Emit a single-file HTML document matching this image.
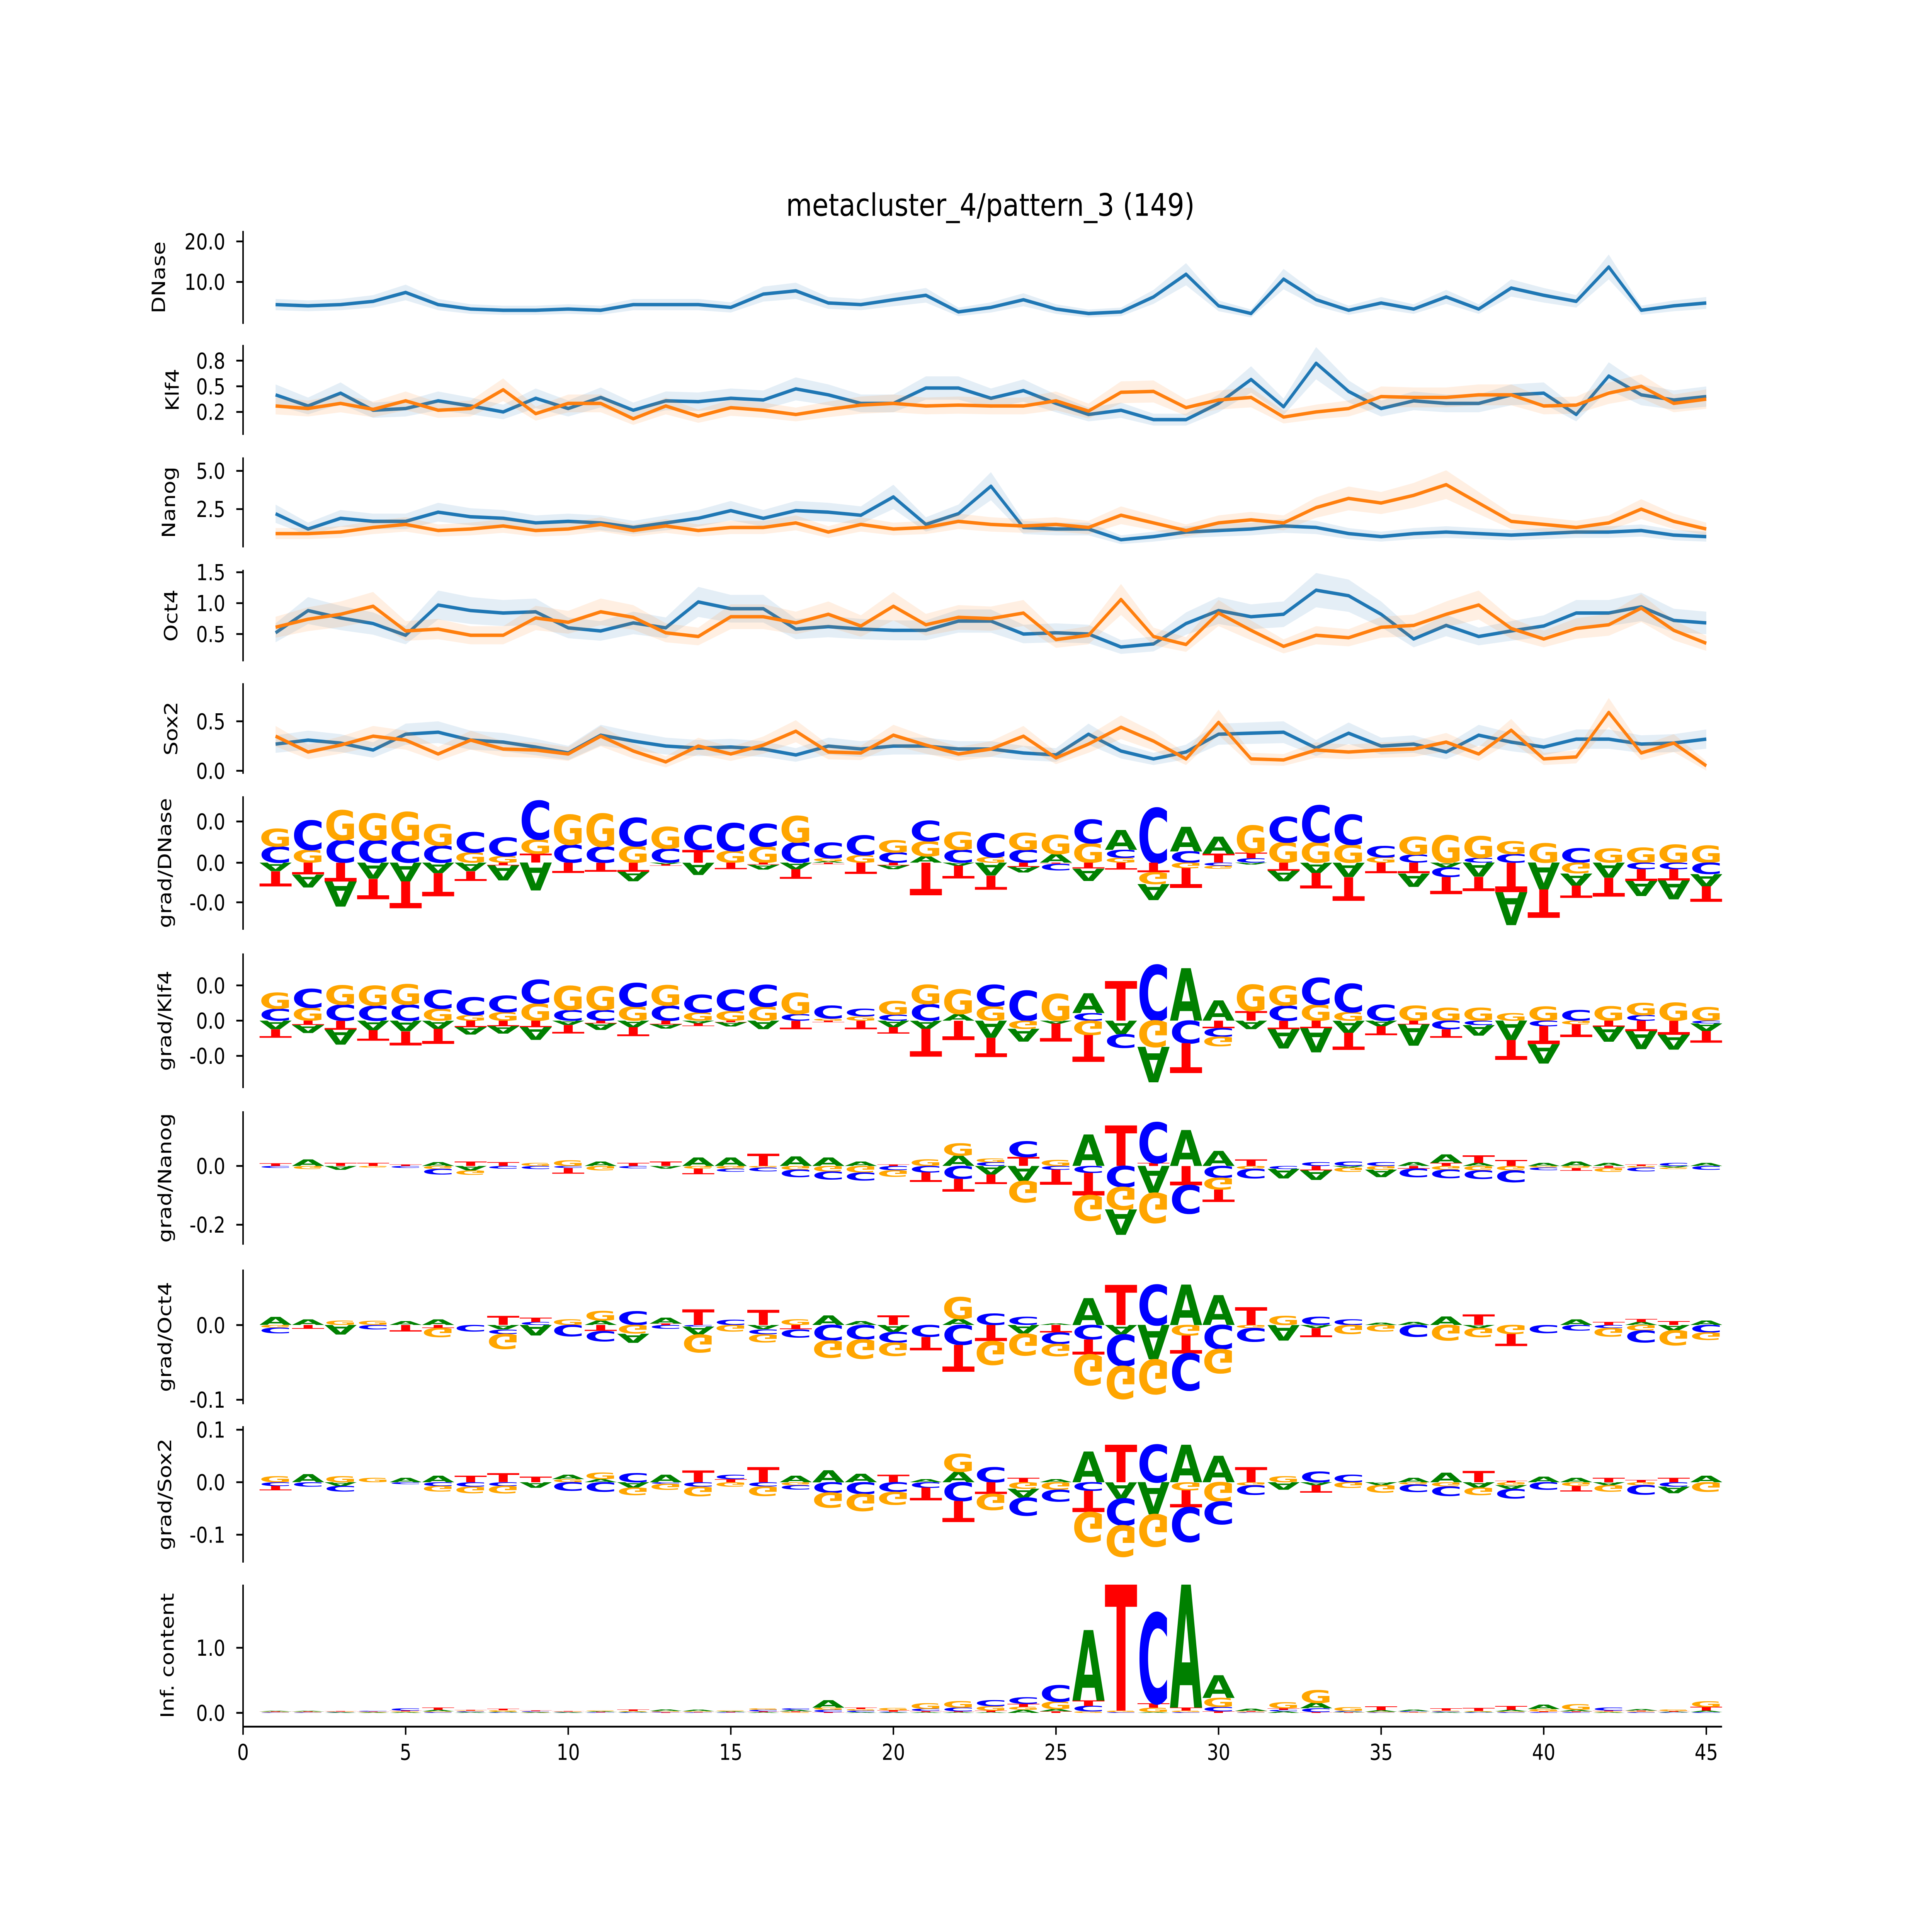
<!DOCTYPE html>
<html><head><meta charset="utf-8"><style>
html,body{margin:0;padding:0;background:#fff;width:100%;height:100%;overflow:hidden;}
svg{display:block;width:100vw;height:100vh;}
text{font-family:"DejaVu Sans","Liberation Sans",sans-serif;}
</style></head><body>
<svg id="chart" xmlns="http://www.w3.org/2000/svg" viewBox="0 0 1546 1288.33" preserveAspectRatio="none">
<rect x="0" y="0" width="1546" height="1288.33" fill="#fff"/>
<text x="792.5" y="143.9" font-size="20.6" text-anchor="middle" textLength="327" lengthAdjust="spacingAndGlyphs">metacluster_4/pattern_3 (149)</text>
<g id="plots"></g>
</svg>
<script>
// ---- line panel data (positions 1..45) ----
const positions = [1,2,3,4,5,6,7,8,9,10,11,12,13,14,15,16,17,18,19,20,21,22,23,24,25,26,27,28,29,30,31,32,33,34,35,36,37,38,39,40,41,42,43,44,45];
const dnaseBlue = [4.4,4.1,4.4,5.2,7.4,4.4,3.3,3.0,3.0,3.3,3.0,4.4,4.4,4.4,3.7,7.0,7.8,4.8,4.4,5.6,6.7,2.6,3.7,5.6,3.3,2.2,2.6,6.3,11.9,4.1,2.2,10.7,5.6,3.0,4.8,3.3,6.3,3.3,8.5,6.7,5.2,13.7,3.0,4.1,4.8];
const klf4Blue = [0.40,0.27,0.42,0.22,0.24,0.33,0.27,0.20,0.36,0.24,0.37,0.22,0.33,0.32,0.36,0.34,0.47,0.40,0.30,0.30,0.48,0.48,0.36,0.45,0.30,0.17,0.22,0.11,0.11,0.30,0.58,0.26,0.77,0.44,0.24,0.33,0.30,0.30,0.40,0.42,0.17,0.62,0.40,0.34,0.38];
const klf4Orange = [0.27,0.24,0.30,0.23,0.33,0.22,0.24,0.46,0.18,0.30,0.30,0.12,0.27,0.15,0.25,0.22,0.17,0.23,0.28,0.30,0.27,0.28,0.27,0.27,0.33,0.21,0.43,0.44,0.25,0.34,0.37,0.14,0.20,0.24,0.38,0.37,0.37,0.40,0.40,0.27,0.28,0.42,0.50,0.30,0.35];
const nanogBlue = [2.2,1.2,1.9,1.7,1.7,2.3,2.0,1.9,1.6,1.7,1.6,1.3,1.6,1.9,2.4,1.9,2.4,2.3,2.1,3.3,1.5,2.2,4.0,1.3,1.2,1.2,0.5,0.7,1.0,1.1,1.2,1.4,1.3,0.9,0.7,0.9,1.0,0.9,0.8,0.9,1.0,1.0,1.1,0.8,0.7];
const nanogOrange = [0.9,0.9,1.0,1.3,1.5,1.1,1.2,1.4,1.1,1.2,1.5,1.1,1.4,1.1,1.3,1.3,1.6,1.0,1.5,1.2,1.3,1.7,1.5,1.4,1.5,1.3,2.1,1.6,1.1,1.6,1.8,1.6,2.6,3.2,2.9,3.4,4.1,2.9,1.7,1.5,1.3,1.6,2.5,1.7,1.2];
const oct4Blue = [0.52,0.88,0.76,0.67,0.48,0.97,0.88,0.84,0.86,0.60,0.55,0.68,0.60,1.02,0.91,0.91,0.58,0.62,0.58,0.56,0.56,0.71,0.71,0.50,0.52,0.50,0.29,0.34,0.67,0.88,0.78,0.82,1.21,1.12,0.82,0.42,0.64,0.46,0.55,0.63,0.84,0.84,0.94,0.72,0.68];
const oct4Orange = [0.61,0.74,0.82,0.95,0.55,0.58,0.48,0.48,0.76,0.69,0.86,0.77,0.52,0.46,0.78,0.78,0.68,0.82,0.63,0.95,0.65,0.77,0.75,0.84,0.41,0.48,1.06,0.46,0.33,0.84,0.56,0.30,0.48,0.44,0.61,0.64,0.82,0.97,0.59,0.42,0.59,0.65,0.92,0.56,0.35];
const sox2Blue = [0.27,0.31,0.28,0.21,0.37,0.39,0.31,0.29,0.24,0.18,0.36,0.30,0.25,0.23,0.24,0.22,0.16,0.25,0.22,0.25,0.25,0.22,0.22,0.18,0.16,0.37,0.20,0.12,0.19,0.37,0.38,0.39,0.23,0.38,0.25,0.27,0.19,0.36,0.29,0.24,0.32,0.32,0.27,0.28,0.32];
const sox2Orange = [0.35,0.19,0.26,0.35,0.31,0.17,0.31,0.22,0.21,0.17,0.35,0.20,0.09,0.25,0.17,0.26,0.40,0.19,0.18,0.36,0.26,0.17,0.22,0.35,0.13,0.27,0.44,0.30,0.12,0.49,0.12,0.11,0.21,0.19,0.21,0.22,0.29,0.17,0.41,0.12,0.14,0.59,0.18,0.28,0.05];

// ---- logo data (contribution per base, display units of each panel) ----
const dA = [-5.7,-8.6,-16.8,-10.7,-12.5,-7,-5.7,-10,-18.6,0,0,-6.4,-1,-8.2,0,-3.2,-4.3,1,0,-2.5,4.3,-2,-8.6,-3.6,5.7,-8.2,13.2,-10.7,16.4,11.4,-1.4,-7,-6.8,-9.6,0,-8.9,-3.2,-9.3,-22,-17.9,-8.2,-10,-10,-12.5,-8.2];
const dC = [10.7,19.6,15,15,14.6,11.4,13.6,12.5,25.7,12,10.7,19,9.3,16.4,18.6,15,13.6,10.4,13.2,6.8,13.6,8.6,16,8.6,-4.3,15.7,5.4,36.4,7.5,-2,3,17.1,24.6,20,7.5,5.4,-6.4,3.2,5.7,0,9.6,0,-4.3,-4.3,-7.5];
const dG = [11.8,8.6,20,18,19.3,14.3,6.8,4.3,9.6,20,22,11,14.6,0,7.8,10.7,17.5,2,5,8.2,10,12,3.6,11.4,12.9,12.9,3.2,-7.9,-3.6,-2,18.2,13.6,13.6,12,3.6,12.1,18.2,14.6,8.6,12.9,-7.1,9.3,10,12.1,11.4];
const dT = [-10,-7.9,-12.5,-13.6,-18,-15.4,-6.4,-1.8,6,-6.8,-6,-6,-1,8.6,-4.3,-1.4,-6.4,-1,-7.5,-1.8,-21.8,-8.6,-9.3,-2.8,-0.7,-3.9,-4.6,-6.4,-13.2,6,3.6,-5.4,-10.4,-15.7,-7.1,-7.1,-11.4,-9.6,-19.6,-18.9,-8.2,-12.5,-7.9,-7.5,-10.4];
const kA = [-5.7,-5.4,-10,-6.4,-7.1,-5.4,-5,-5,-8.6,-2.9,-4.3,-4.3,-2.9,-1.8,-2.9,-5.7,0,0,0,-4.3,-5.4,4.3,-11.4,-8.6,-2,13.2,-9,-23.6,35,13.6,-5.7,-12.9,-16,-8.2,-3.6,-14.3,0,-7,-12.9,-12.9,0,-10,-12,-10,-5];
const kC = [7.9,12.5,10.7,10,10.7,12.5,12.1,11,15.7,7.1,7.1,15.7,10,11.8,14.3,14.6,4.3,8.6,5,4,11,0,14.3,20,0,5,-9,37,-15,-5.7,0,10,17.9,18.9,10.7,0,-5.7,-3,0,-3.6,7.1,0,3.6,0,-1.8];
const kG = [10.7,8.6,12.9,13.2,13.6,7.9,3.6,5.7,11.4,16,15.7,9.3,13.6,5.4,6.4,9.3,14.3,1.4,2.9,9,12.9,16.4,9.6,-5.4,17.9,-9.6,0,-17.5,0,-6.4,17.5,13.2,10.7,5.7,0,10,8.6,8.6,5,9.3,-2.5,9.6,8.2,12,8.9];
const kT = [-5.7,-2.9,-6,-7.1,-9.3,-10,-4.3,-3.6,-4.3,-5.7,-1.8,-6,-2.5,-1.8,-1,0,-5.7,-1,-5.7,-4.3,-18.6,-12.9,-12.9,0,-12,-17.9,26.4,0,-20,-5,6.4,-5.7,-5,-11.4,-6,-2.5,-5.7,0,-13.2,-12.1,-8.6,-4,-7,-9.3,-7.9];
const nA = [0,4.3,-2.5,0,0,2.5,-3,0,0,0,3,0,-1.8,5.7,5.7,0,6.4,5.7,3,0,0,6.8,-5.7,-10,0,21,-17,-18,24,10,0,-6.4,-6.4,-1,-5,2.5,5.7,2,0,2,3,2,0,-1,2];
const nC = [-1.4,0,0,0,-1.4,-3.6,0,-1.8,-2,-1.4,0,-1.5,0,0,-2,-2.5,-5,-5.4,-5.4,-2.9,-4.3,-8.6,2.5,10.4,-2.5,-4.6,-14,27,-19,-7.9,-6.4,-2,2.5,3,2.5,-5.7,-5.7,-5.7,-7.9,-1.8,0,0,-2.5,2,-2.5];
const nG = [0,-2,0,-1,0,-2,-3,0,2,3.6,-3,0,0,-1.8,-1.8,-1,-2.5,-3.6,-4.3,-4.3,4.3,8.2,2.5,-14.3,4,-17,-15,-20,0,-7.9,-2,0,0,-3,-2.5,0,-2.5,-3,-3,-1,-1.4,-2.5,-1,-1,0];
const nT = [1.8,0,2,2,1,0,3,2.5,0,-3.6,0,2,3,-3.6,0,8.2,0,0,0,1,-6.4,-8.6,-6.4,6,-10,-15,27,2,-12.9,-8.2,4.3,0,-3,0,0,-1.8,2,5,4,0,-1.8,-1.4,1,0,0];
const oA = [5.4,3.6,-6.4,0,2.5,3.6,0,-3,-7,0,3,-6,4,-5.4,0,-2.9,0,6.4,2.5,-4.6,0,4,0,-5.7,1,17.9,-6.4,-23,27,20,0,-10.4,-2,0,1.5,2,5.7,-2,0,0,3.6,0,2,-3.6,3];
const oC = [-3.6,0,0,-3,0,0,-4.3,-3,2,-7.5,-6.8,9,-2.5,-1,3.5,-3.2,-5.4,-10.4,-9.6,-7.1,-7.9,-13.2,7.5,5.4,-7.5,-9.6,-21,26.8,-24.6,-16,-9,0,5.4,3.6,0,-7.9,0,0,0,-5.4,-3.6,-2,-8,0,-5];
const oG = [-1.8,0,3,2.9,0,-6,0,-10,0,3.6,6.4,-5.7,0,-11.8,-4.3,-5.4,3.6,-11.4,-12.9,-8.9,0,14.6,-15.7,-14.6,-8.2,-20.4,-21.8,-23,-7,-16,-2,6,0,-6,-4.3,0,-10.4,-6,-6,0,0,-5.7,-3.6,-10,-5];
const oT = [0,-2.5,0,0,-4.3,-2,0,6,3,0,-4,0,1,10.4,0,10,-2.9,0,0,6.4,-8.9,-18,-10.7,0,-5,-10,26.8,0,-12,0,11.8,0,-6,0,0,0,0,7,-8,0,0,2,2,2.5,0];
const sA = [0,5.4,-2.5,0,3,4.3,0,0,-3.6,3,2,-3.6,5,0,0,0,4.3,8,5.7,0,2,7,0,-6,2,20.4,-11,-21.4,25,17.5,0,-5,-2,0,-2,3,6.4,-3.6,-2.5,3.6,3,-2,0,-4.3,4.3];
const sC = [-2.5,-3,-3.6,0,-1.4,-2.5,-3,-2.5,0,-5.7,-6.4,6,-1,-3,3,-2.9,-3,-7,-7.9,-6.4,-3.6,-12.5,10,-12,-7.9,-5.7,-17.9,25,-23,-15,-6.4,0,7,5,0,-5,-6.4,0,-6.4,-5,0,0,-6.4,-3,0];
const sG = [4,0,4,3,0,-3.6,-4.3,-5,0,2,4.3,-5,-4,-6.4,-3,-6.4,-2,-10,-11.4,-8.6,0,12,-10.7,-4.3,-5,-20,-20.7,-21.4,-5.4,-12.9,-2.1,4,0,-3.6,-5,-1.5,-2.9,-5,-2,0,-2.5,-4.3,-2,0,-6.4];
const sT = [-3,0,0,0,0,0,4.3,6,3.6,0,0,0,0,7.9,2,10,0,0,0,5,-8.6,-14,-7.9,3,0,-14.3,25,0,-11.4,0,10,0,-5,0,0,0,0,7.5,1,0,-3.6,3,1.5,3,0];
const iA = [0.5,0.5,0.3,0.3,0.5,1,0.5,0.5,0.3,0.3,0.5,0.5,1,1,0.5,0.5,1,5,0.5,0.3,0.5,0.5,0.5,2,1.5,47,0,0.5,82,15,1.5,1,3.6,0.5,1,1,0.5,0.5,1,3,1,0.5,1,0.5,1];
const iC = [0.3,0.3,0.3,0.5,1.5,0.5,0.5,0.3,0.5,0.3,0.3,0.3,0.5,0.3,0.3,1,1,1.5,1,0.5,1.5,2.5,4,4.3,11,3.6,0.5,60,0.5,3,0.3,1,2.5,0.5,0.3,0.5,0.5,0.3,0.5,0.5,0.5,2,0.5,0.3,0.5];
const iG = [0.3,0.3,0.3,0.3,0.5,0.5,0.5,1,0.3,0.3,0.5,0.5,0.5,0.5,0.5,1,0.5,1.5,1,1.5,3.6,4.3,3,2,5,1,1,3,1,6,0.5,4,8.6,2.5,0.5,0.3,0.5,0.5,0.5,1.5,3.6,0.5,0.5,1,3.6];
const iT = [0.3,0.3,0.3,0.3,0.5,1.5,0.5,1,0.5,0.3,0.3,1,0.3,0.3,0.3,0.5,0.5,0.5,1,1,0.7,0.5,1,2,1,3.6,86,3,2,1,0.5,1,0.5,0.3,2.5,0.3,1.5,2,2.5,0.5,0.5,0.5,0.5,0.5,2.5];

// ---- tick arrays ----
const xTicks = [0,5,10,15,20,25,30,35,40,45];
const dnaseTicks = [20,10]; const dnaseTickLabels = ["20.0","10.0"];
const klf4Ticks = [0.8,0.5,0.2]; const klf4TickLabels = ["0.8","0.5","0.2"];
const nanogTicks = [5,2.5]; const nanogTickLabels = ["5.0","2.5"];
const oct4Ticks = [1.5,1.0,0.5]; const oct4TickLabels = ["1.5","1.0","0.5"];
const sox2Ticks = [0.5,0]; const sox2TickLabels = ["0.5","0.0"];
const gDnaseTicks = [27.5,0,-26.4]; const gDnaseTickLabels = ["0.0","0.0","-0.0"];
const gKlf4Ticks = [23.5,0,-23.5]; const gKlf4TickLabels = ["0.0","0.0","-0.0"];
const gNanogTicks = [0,-39.2]; const gNanogTickLabels = ["0.0","-0.2"];
const gOct4Ticks = [0,-49.8]; const gOct4TickLabels = ["0.0","-0.1"];
const gSox2Ticks = [35,0,-35]; const gSox2TickLabels = ["0.1","0.0","-0.1"];
const icTicks = [43.4,0]; const icTickLabels = ["1.0","0.0"];

const NS = "http://www.w3.org/2000/svg";
const X0 = 194.5, XU = 26.02, XR = 1378;
const xs = p => X0 + p * XU;
const root = document.getElementById('plots');
const BLUE = "#1f77b4", ORANGE = "#ff7f0e";
const COLORS = {A:"#008000", C:"#0000ff", G:"#ffa500", T:"#ff0000"};

function mk(tag, attrs, parent) {
  const e = document.createElementNS(NS, tag);
  for (const k in attrs) e.setAttribute(k, attrs[k]);
  (parent || root).appendChild(e);
  return e;
}

let clipId = 0;
function axis(name, top, bottom, zero, ppu, ticks, labels, ylabel, labelX) {
  const g = mk('g', {});
  
  
  const sp = mk('line', {x1: X0, x2: X0, y1: top, y2: bottom, stroke: '#000', 'stroke-width': 1.2}, g);
  
  
  ticks.forEach((t, i) => {
    const y = zero - t * ppu;
    const tl = mk('line', {x1: X0 - 5.4, x2: X0, y1: y, y2: y, stroke: '#000', 'stroke-width': 1.2}, g);
    
    
    const tx = mk('text', {x: X0 - 14.2, y: y + 5.3, 'font-size': 14.7, 'text-anchor': 'end'}, g);
    tx.textContent = labels[i];
    
    
  });
  const cy = (top + bottom) / 2;
  const lab = mk('text', {x: 0, y: 0, 'font-size': 14.7, 'text-anchor': 'middle', transform: 'translate(' + labelX + ',' + cy + ') rotate(-90)'}, g);
  lab.textContent = ylabel;
  
  
  const id = 'clip' + (clipId++);
  const cp = mk('clipPath', {id: id}, g);
  mk('rect', {x: X0, y: top, width: XR - X0, height: bottom - top}, cp);
  const inner = mk('g', {'clip-path': 'url(#' + id + ')'}, g);
  return inner;
}

function linePanel(name, top, bottom, zero, ppu, ticks, labels, ylabel, labelX, series) {
  const g = axis(name, top, bottom, zero, ppu, ticks, labels, ylabel, labelX);
  const y = v => zero - v * ppu;
  series.forEach(s => {
    const vals = s.vals;
    let up = '', dn = '';
    vals.forEach((v, i) => { const e = Math.abs(v) * 0.18 + s.base; up += (i ? 'L' : 'M') + xs(positions[i]).toFixed(2) + ',' + y(v + e).toFixed(2); });
    for (let i = vals.length - 1; i >= 0; i--) { const v = vals[i]; const e = Math.abs(v) * 0.18 + s.base; dn += 'L' + xs(positions[i]).toFixed(2) + ',' + y(Math.max(v - e, 0)).toFixed(2); }
    const band = mk('path', {d: up + dn + 'Z', fill: s.color, 'fill-opacity': 0.12, stroke: 'none'}, g);
    
    
    let d = '';
    vals.forEach((v, i) => { d += (i ? 'L' : 'M') + xs(positions[i]).toFixed(2) + ',' + y(v).toFixed(2); });
    const ln = mk('path', {d: d, fill: 'none', stroke: s.color, 'stroke-width': 2.3, 'stroke-linejoin': 'round'}, g);
    
    
  });
}

function logoPanel(name, top, bottom, zero, ticks, labels, ylabel, labelX, arrs) {
  const g = axis(name, top, bottom, zero, 1, ticks, labels, ylabel, labelX);
  for (let i = 0; i < 45; i++) {
    const p = positions[i];
    const items = ['A','C','G','T'].map(b => ({b: b, v: arrs[b][i]}));
    const pos = items.filter(o => o.v > 0).sort((a, b) => a.v - b.v);
    const neg = items.filter(o => o.v < 0).sort((a, b) => b.v - a.v);
    const xl = xs(p - 0.5);
    const sx = XU / 100;
    let yb = zero;
    pos.forEach(o => {
      const h = o.v;
      if (h >= 0.2) {
        const t = mk('text', {x: 0, y: 0, 'font-size': 100, 'font-weight': 'bold', fill: COLORS[o.b], textLength: 100, lengthAdjust: 'spacingAndGlyphs', transform: 'translate(' + xl.toFixed(2) + ',' + yb.toFixed(2) + ') scale(' + sx.toFixed(4) + ',' + (h / 72.9).toFixed(4) + ')'}, g);
        t.textContent = o.b;
        
        
      }
      yb -= h;
    });
    let yt = zero;
    neg.forEach(o => {
      const h = -o.v;
      if (h >= 0.2) {
        const t = mk('text', {x: 0, y: 0, 'font-size': 100, 'font-weight': 'bold', fill: COLORS[o.b], textLength: 100, lengthAdjust: 'spacingAndGlyphs', transform: 'translate(' + xl.toFixed(2) + ',' + yt.toFixed(2) + ') scale(' + sx.toFixed(4) + ',' + (-h / 72.9).toFixed(4) + ')'}, g);
        t.textContent = o.b;
        
        
      }
      yt += h;
    });
  }
  return g;
}

linePanel('dnase', 154, 216, 215, 2.7, dnaseTicks, dnaseTickLabels, 'DNase', 132, [{key:'blue', vals: dnaseBlue, color: BLUE, base: 0.6}]);
linePanel('klf4', 230, 290, 286.1, 57, klf4Ticks, klf4TickLabels, 'Klf4', 143, [{key:'blue', vals: klf4Blue, color: BLUE, base: 0.05}, {key:'orange', vals: klf4Orange, color: ORANGE, base: 0.05}]);
linePanel('nanog', 305, 365, 365, 10.2, nanogTicks, nanogTickLabels, 'Nanog', 140, [{key:'blue', vals: nanogBlue, color: BLUE, base: 0.2}, {key:'orange', vals: nanogOrange, color: ORANGE, base: 0.2}]);
linePanel('oct4', 380, 441, 443.4, 41.2, oct4Ticks, oct4TickLabels, 'Oct4', 142, [{key:'blue', vals: oct4Blue, color: BLUE, base: 0.06}, {key:'orange', vals: oct4Orange, color: ORANGE, base: 0.06}]);
linePanel('sox2', 455.6, 516, 514, 66, sox2Ticks, sox2TickLabels, 'Sox2', 142, [{key:'blue', vals: sox2Blue, color: BLUE, base: 0.04}, {key:'orange', vals: sox2Orange, color: ORANGE, base: 0.04}]);

logoPanel('grad-dnase', 531, 620, 575.3, gDnaseTicks, gDnaseTickLabels, 'grad/DNase', 137, {A: dA, C: dC, G: dG, T: dT});
logoPanel('grad-klf4', 635.8, 725.6, 680.6, gKlf4Ticks, gKlf4TickLabels, 'grad/Klf4', 137, {A: kA, C: kC, G: kG, T: kT});
logoPanel('grad-nanog', 741, 830, 777.5, gNanogTicks, gNanogTickLabels, 'grad/Nanog', 137, {A: nA, C: nC, G: nG, T: nT});
logoPanel('grad-oct4', 846.6, 936.4, 883.6, gOct4Ticks, gOct4TickLabels, 'grad/Oct4', 137, {A: oA, C: oC, G: oG, T: oT});
logoPanel('grad-sox2', 951, 1042, 988.4, gSox2Ticks, gSox2TickLabels, 'grad/Sox2', 137, {A: sA, C: sC, G: sG, T: sT});
logoPanel('inf-content', 1056.7, 1151.4, 1142.2, icTicks, icTickLabels, 'Inf. content', 139, {A: iA, C: iC, G: iG, T: iT});

// x axis (bottom panel)
const xa = mk('line', {x1: X0, x2: XR, y1: 1151.4, y2: 1151.4, stroke: '#000', 'stroke-width': 1.2});


xTicks.forEach(t => {
  const x = xs(t);
  const tl = mk('line', {x1: x, x2: x, y1: 1151.4, y2: 1156.8, stroke: '#000', 'stroke-width': 1.2});
  
  
  const tx = mk('text', {x: x, y: 1173.5, 'font-size': 14.7, 'text-anchor': 'middle'});
  tx.textContent = String(t);
  
  
});
</script>
</body></html>
